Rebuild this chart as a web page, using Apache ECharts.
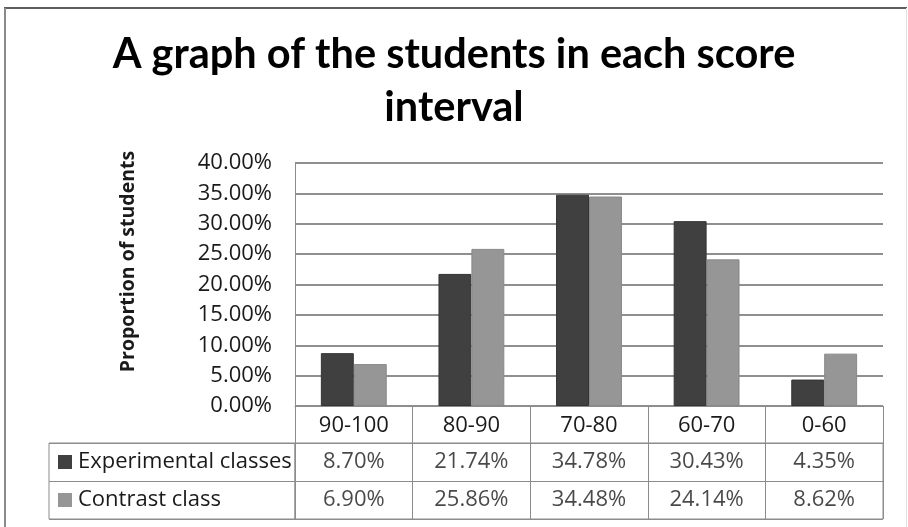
<!DOCTYPE html>
<html>
<head>
<meta charset="utf-8">
<script src="https://cdn.jsdelivr.net/npm/echarts@6/dist/echarts.min.js"></script>
<style>
html,body{margin:0;padding:0;background:#fff;}
#chart{width:908px;height:527px;}
</style>
</head>
<body>
<div id="chart"></div>
<script>
// ---- data ----
const categories = ['90-100', '80-90', '70-80', '60-70', '0-60'];
const seriesNames = ['Experimental classes', 'Contrast class'];
const experimental = [8.70, 21.74, 34.78, 30.43, 4.35];
const contrast = [6.90, 25.86, 34.48, 24.14, 8.62];
const yTicks = { min: 0, max: 40, interval: 5 };
const titleText = 'A graph of the students in each score\ninterval';
const yAxisName = 'Proportion of students';

// ---- styles ----
const DARK = '#404040';
const LIGHT = '#969696';
const LINE = '#8c8c8c';
const TXT = '#1a1a1a';
const FONT = '"Open Sans", "Noto Sans", sans-serif';
const FS = 22;

const tableData = [];
categories.forEach((c, i) => {
  tableData.push([c, seriesNames[0], experimental[i]]);
  tableData.push([c, seriesNames[1], contrast[i]]);
});

const chart = echarts.init(document.getElementById('chart'), null, { renderer: 'canvas' });

chart.setOption({
  backgroundColor: '#fff',
  animation: false,
  title: {
    text: titleText,
    left: 'center',
    top: 28,
    padding: 0,
    textStyle: {
      fontFamily: 'Lato, sans-serif',
      fontWeight: 'bold',
      fontSize: 41.5,
      lineHeight: 53,
      color: '#000'
    }
  },
  graphic: [
    { type: 'line', shape: { x1: 4, y1: 8, x2: 907, y2: 8 }, style: { stroke: '#5e5e5e', lineWidth: 2 } },
    { type: 'line', shape: { x1: 5, y1: 8, x2: 5, y2: 527 }, style: { stroke: '#8a8a8a', lineWidth: 2 } },
    { type: 'line', shape: { x1: 906.5, y1: 8, x2: 906.5, y2: 527 }, style: { stroke: '#e0e0e0', lineWidth: 1 } }
  ],
  grid: [
    { left: 295, right: 25, top: 163, bottom: 121, show: false },
    { left: 49, width: 246, top: 443, bottom: 8, show: true, borderColor: LINE, borderWidth: 1, backgroundColor: 'transparent' },
    { left: 295, right: 25, top: 443, bottom: 8, show: true, borderColor: LINE, borderWidth: 1, backgroundColor: 'transparent' }
  ],
  xAxis: [
    {
      gridIndex: 0,
      type: 'category',
      data: categories,
      axisLine: { show: true, lineStyle: { color: LINE, width: 1 } },
      axisTick: { show: true, interval: 0, length: 113, alignWithLabel: false, lineStyle: { color: LINE, width: 1 } },
      axisLabel: { interval: 0, margin: 9, color: TXT, fontFamily: FONT, fontSize: FS },
      splitLine: { show: false }
    },
    {
      gridIndex: 1,
      type: 'category',
      data: ['label'],
      show: false
    },
    {
      gridIndex: 2,
      type: 'category',
      data: categories,
      axisLine: { show: false },
      axisTick: { show: false },
      axisLabel: { show: false },
      splitLine: { show: true, interval: 0, lineStyle: { color: LINE, width: 1 } }
    }
  ],
  yAxis: [
    {
      gridIndex: 0,
      type: 'value',
      min: yTicks.min,
      max: yTicks.max,
      interval: yTicks.interval,
      name: yAxisName,
      nameLocation: 'middle',
      nameRotate: 90,
      nameGap: 157,
      nameTextStyle: {
        fontFamily: FONT,
        fontWeight: 'bold',
        fontSize: 19.5,
        color: TXT,
        padding: [0, 0, 0, 46]
      },
      axisLine: { show: true, lineStyle: { color: LINE, width: 1 } },
      axisTick: { show: false },
      axisLabel: {
        margin: 23,
        color: TXT,
        fontFamily: FONT,
        fontSize: FS,
        formatter: v => v.toFixed(2) + '%'
      },
      splitLine: { show: true, lineStyle: { color: '#8f8f8f', width: 2 } }
    },
    {
      gridIndex: 1,
      type: 'category',
      data: seriesNames,
      inverse: true,
      axisLine: { show: false },
      axisTick: { show: false },
      splitLine: { show: true, interval: 0, lineStyle: { color: LINE, width: 1 } },
      axisLabel: {
        inside: true,
        margin: 9,
        interval: 0,
        formatter: (v, i) => (i === 0 ? '{a|}' : '{b|}') + '{t|' + v + '}',
        rich: {
          a: { width: 14, height: 14, backgroundColor: DARK },
          b: { width: 14, height: 14, backgroundColor: LIGHT },
          t: { fontFamily: FONT, fontSize: FS, color: TXT, padding: [0, 0, 0, 6] }
        }
      }
    },
    {
      gridIndex: 2,
      type: 'category',
      data: seriesNames,
      inverse: true,
      axisLine: { show: false },
      axisTick: { show: false },
      axisLabel: { show: false },
      splitLine: { show: true, interval: 0, lineStyle: { color: LINE, width: 1 } }
    }
  ],
  series: [
    {
      name: seriesNames[0],
      type: 'bar',
      xAxisIndex: 0,
      yAxisIndex: 0,
      data: experimental,
      barGap: '0%',
      barCategoryGap: '44%',
      itemStyle: { color: DARK, borderColor: '#333', borderWidth: 1 }
    },
    {
      name: seriesNames[1],
      type: 'bar',
      xAxisIndex: 0,
      yAxisIndex: 0,
      data: contrast,
      barGap: '0%',
      barCategoryGap: '44%',
      itemStyle: { color: LIGHT, borderColor: '#888', borderWidth: 1 }
    },
    {
      name: 'table',
      type: 'scatter',
      xAxisIndex: 2,
      yAxisIndex: 2,
      data: tableData,
      symbol: 'rect',
      symbolSize: 1,
      itemStyle: { color: 'rgba(0,0,0,0)' },
      label: {
        show: true,
        position: 'inside',
        color: TXT,
        fontFamily: FONT,
        fontSize: FS,
        formatter: p => p.value[2].toFixed(2) + '%'
      },
      silent: true
    }
  ]
});
</script>
</body>
</html>
